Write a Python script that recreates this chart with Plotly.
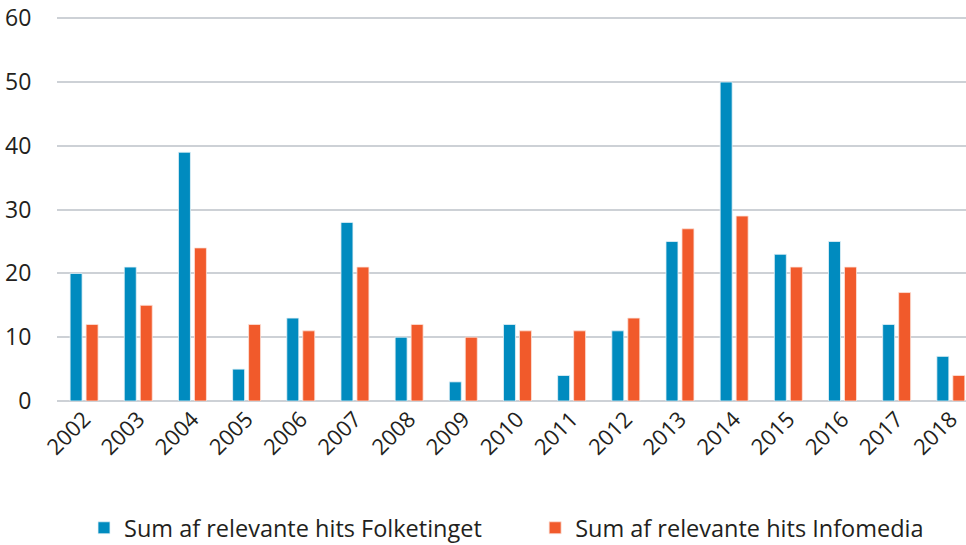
import plotly.graph_objects as go

years = [str(y) for y in range(2002, 2019)]
folketinget = [20, 21, 39, 5, 13, 28, 10, 3, 12, 4, 11, 25, 50, 23, 25, 12, 7]
infomedia = [12, 15, 24, 12, 11, 21, 12, 10, 11, 11, 13, 27, 29, 21, 21, 17, 4]
y_ticks = [0, 10, 20, 30, 40, 50, 60]

name_f = "Sum af relevante hits Folketinget"
name_i = "Sum af relevante hits Infomedia"

FONT = "Open Sans"
TXT = "#231f20"

fig = go.Figure()
fig.add_trace(go.Bar(x=years, y=folketinget, name=name_f, legend="legend",
                     marker=dict(color="#008bbf", line=dict(color="#e6f3f8", width=0.8))))
fig.add_trace(go.Bar(x=years, y=infomedia, name=name_i, legend="legend2",
                     marker=dict(color="#f15a2b", line=dict(color="#fde3da", width=0.8))))

leg_common = dict(orientation="h", xanchor="left", yref="container",
                  y=1 - 528 / 545, yanchor="middle",
                  font=dict(size=23.5, family=FONT, color=TXT))

fig.update_layout(
    width=966, height=545,
    margin=dict(l=57, r=0, t=17, b=144, pad=0),
    paper_bgcolor="white", plot_bgcolor="white",
    barmode="group", bargap=0.41, bargroupgap=0.25,
    font=dict(family=FONT, color=TXT, size=22),
    showlegend=True,
    legend=dict(x=0.0297, **leg_common),
    legend2=dict(x=0.526, **leg_common),
    xaxis=dict(type="category", range=[-0.5, 16.28], tickangle=-45, showgrid=False,
               showline=False, ticks="", automargin=False,
               tickfont=dict(size=22, family=FONT, color=TXT)),
    yaxis=dict(range=[0, 60.2], tickvals=y_ticks, showgrid=True, gridcolor="#cdd1d6", gridwidth=2,
               zeroline=True, zerolinecolor="#cdd1d6", zerolinewidth=2, showline=False,
               ticks="outside", ticklen=20, tickcolor="rgba(0,0,0,0)", automargin=False,
               tickfont=dict(size=23, family=FONT, color=TXT)),
)

fig.write_html(
    "out.html",
    config={"displayModeBar": False},
    post_script="document.body.style.margin='0';document.body.style.overflow='hidden';",
)
